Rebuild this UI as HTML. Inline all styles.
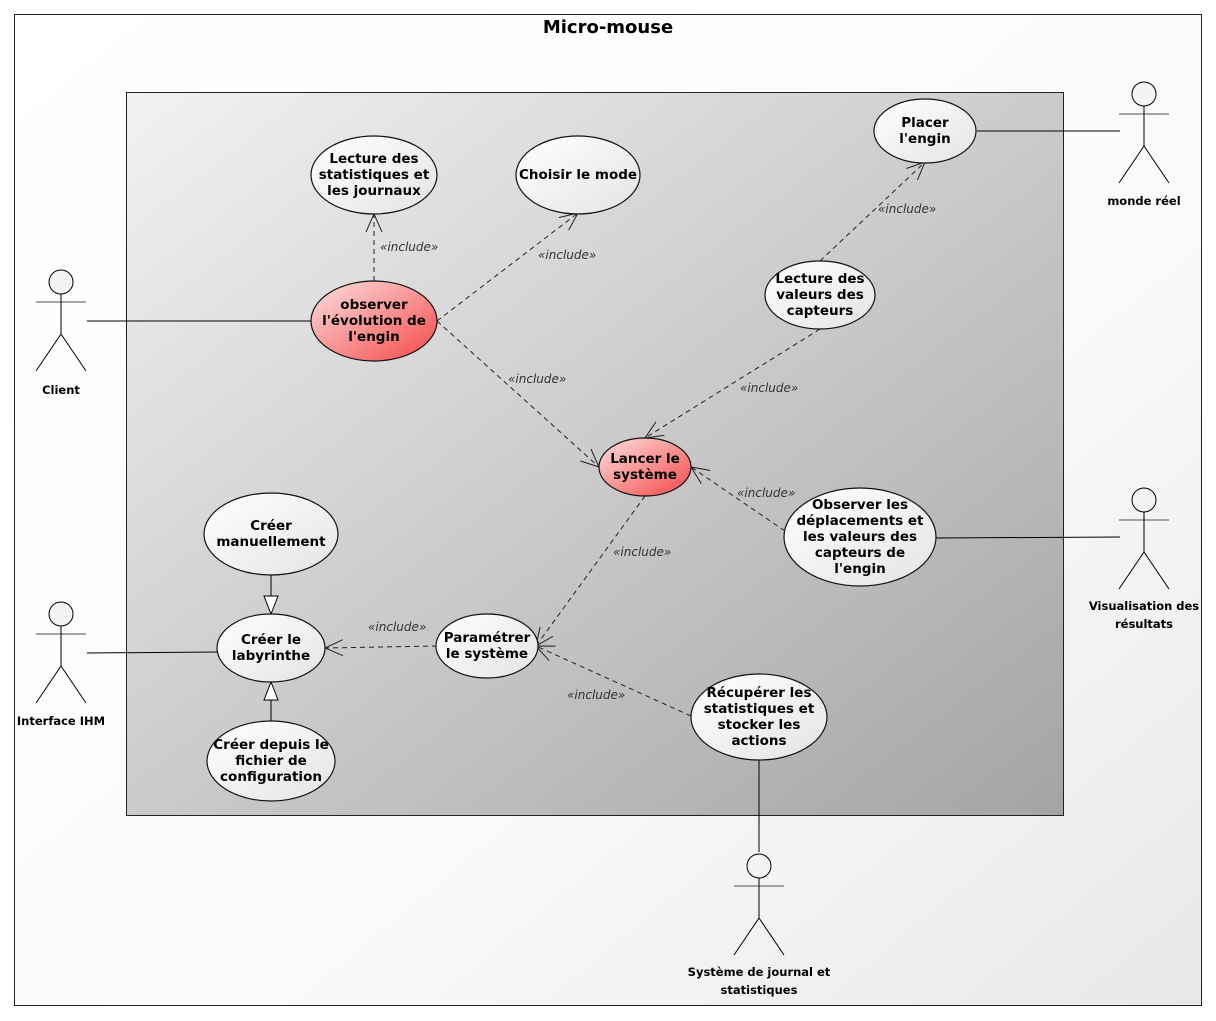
<!DOCTYPE html>
<html><head><meta charset="utf-8"><style>
html,body{margin:0;padding:0;background:#fff;}
svg{display:block;}
text{font-family:"DejaVu Sans","Liberation Sans",sans-serif;}
.u{font-size:13.5px;font-weight:bold;fill:#000;text-anchor:middle;}
.a{font-size:11.5px;font-weight:bold;fill:#000;text-anchor:middle;}
.i{font-size:12px;font-style:italic;fill:#333;}
.d{stroke:#222;stroke-width:1;stroke-dasharray:5,4;fill:none;marker-end:url(#op);}
</style></head><body>
<svg width="1216" height="1021" viewBox="0 0 1216 1021" xmlns="http://www.w3.org/2000/svg">
<defs>
<linearGradient id="og" x1="0" y1="0" x2="1" y2="1"><stop offset="0" stop-color="#ffffff"/><stop offset="0.6" stop-color="#fafafa"/><stop offset="1" stop-color="#e8e8e8"/></linearGradient>
<linearGradient id="ig" x1="0" y1="0" x2="1" y2="1"><stop offset="0" stop-color="#f2f2f2"/><stop offset="1" stop-color="#a4a4a4"/></linearGradient>
<linearGradient id="wg" x1="0" y1="0" x2="1" y2="1"><stop offset="0" stop-color="#ffffff"/><stop offset="1" stop-color="#e4e4e4"/></linearGradient>
<linearGradient id="rg" x1="0" y1="0" x2="1" y2="1"><stop offset="0" stop-color="#fde0e0"/><stop offset="1" stop-color="#f44848"/></linearGradient>
<marker id="op" markerWidth="20" markerHeight="20" refX="18" refY="10" orient="auto" markerUnits="userSpaceOnUse"><path d="M0,2 L18,10 L0,18" fill="none" stroke="#222" stroke-width="1"/></marker>
</defs>
<rect x="0" y="0" width="1216" height="1021" fill="#fff"/>
<rect x="14.5" y="14.5" width="1187" height="991" fill="url(#og)" stroke="#222"/>
<text x="608" y="33" style="font-size:18px;font-weight:bold;text-anchor:middle">Micro-mouse</text>
<rect x="126.5" y="92.5" width="937" height="723" fill="url(#ig)" stroke="#222"/>

<g stroke="#000" stroke-width="1" fill="none">
<line x1="87" y1="321" x2="311" y2="321"/>
<line x1="977" y1="131" x2="1120" y2="131"/>
<line x1="936" y1="538" x2="1120" y2="537"/>
<line x1="87" y1="653" x2="217" y2="652"/>
<line x1="759" y1="760" x2="759" y2="852"/>
<line x1="271" y1="575" x2="271" y2="596"/>
<polygon points="264,596 278,596 271,614" fill="#fff"/>
<line x1="271" y1="721" x2="271" y2="700"/>
<polygon points="264,700 278,700 271,682" fill="#fff"/>
</g>

<path class="d" d="M374,281 L374,214"/>
<path class="d" d="M437,321 L578,213"/>
<path class="d" d="M437,321 L599,467"/>
<path class="d" d="M820,261 L925,162"/>
<path class="d" d="M820,329 L645,438"/>
<path class="d" d="M785,531 L691,467"/>
<path class="d" d="M645,496 L536,646"/>
<path class="d" d="M437,646 L325,648"/>
<path class="d" d="M691,716 L536,646"/>
<text class="i" x="380" y="251">«include»</text>
<text class="i" x="538" y="259">«include»</text>
<text class="i" x="508" y="383">«include»</text>
<text class="i" x="878" y="213">«include»</text>
<text class="i" x="740" y="392">«include»</text>
<text class="i" x="737" y="497">«include»</text>
<text class="i" x="613" y="556">«include»</text>
<text class="i" x="368" y="631">«include»</text>
<text class="i" x="567" y="699">«include»</text>

<g stroke="#111" stroke-width="1.2">
<ellipse cx="374" cy="175" rx="63" ry="39" fill="url(#wg)"/>
<ellipse cx="578" cy="175" rx="62" ry="39" fill="url(#wg)"/>
<ellipse cx="925" cy="131" rx="51" ry="32" fill="url(#wg)"/>
<ellipse cx="374" cy="321" rx="63" ry="40" fill="url(#rg)"/>
<ellipse cx="820" cy="295" rx="55" ry="34" fill="url(#wg)"/>
<ellipse cx="645" cy="467" rx="46" ry="29" fill="url(#rg)"/>
<ellipse cx="860" cy="537" rx="76" ry="49" fill="url(#wg)"/>
<ellipse cx="271" cy="534" rx="67" ry="41" fill="url(#wg)"/>
<ellipse cx="271" cy="648" rx="54" ry="34" fill="url(#wg)"/>
<ellipse cx="487" cy="646" rx="51" ry="32" fill="url(#wg)"/>
<ellipse cx="759" cy="717" rx="68" ry="43" fill="url(#wg)"/>
<ellipse cx="271" cy="761" rx="64" ry="40" fill="url(#wg)"/>
</g>
<text class="u" x="374" y="163">Lecture des</text><text class="u" x="374" y="179">statistiques et</text><text class="u" x="374" y="195">les journaux</text>
<text class="u" x="578" y="179">Choisir le mode</text>
<text class="u" x="925" y="127">Placer</text><text class="u" x="925" y="143">l'engin</text>
<text class="u" x="374" y="309">observer</text><text class="u" x="374" y="325">l'évolution de</text><text class="u" x="374" y="341">l'engin</text>
<text class="u" x="820" y="283">Lecture des</text><text class="u" x="820" y="299">valeurs des</text><text class="u" x="820" y="315">capteurs</text>
<text class="u" x="645" y="463">Lancer le</text><text class="u" x="645" y="479">système</text>
<text class="u" x="860" y="509">Observer les</text><text class="u" x="860" y="525">déplacements et</text><text class="u" x="860" y="541">les valeurs des</text><text class="u" x="860" y="557">capteurs de</text><text class="u" x="860" y="573">l'engin</text>
<text class="u" x="271" y="530">Créer</text><text class="u" x="271" y="546">manuellement</text>
<text class="u" x="271" y="644">Créer le</text><text class="u" x="271" y="660">labyrinthe</text>
<text class="u" x="487" y="642">Paramétrer</text><text class="u" x="487" y="658">le système</text>
<text class="u" x="759" y="697">Récupérer les</text><text class="u" x="759" y="713">statistiques et</text><text class="u" x="759" y="729">stocker les</text><text class="u" x="759" y="745">actions</text>
<text class="u" x="271" y="749">Créer depuis le</text><text class="u" x="271" y="765">fichier de</text><text class="u" x="271" y="781">configuration</text>

<g stroke="#000" stroke-width="1" fill="none">
<g transform="translate(61,282)"><circle cx="0" cy="0" r="12" fill="#f4f4f4"/><line x1="-25" y1="20" x2="25" y2="20" stroke="#888" stroke-width="1.5"/><line x1="0" y1="12" x2="0" y2="52"/><path d="M-25,89 L0,52 L25,89"/></g>
<g transform="translate(1144,94)"><circle cx="0" cy="0" r="12" fill="#f4f4f4"/><line x1="-25" y1="20" x2="25" y2="20" stroke="#888" stroke-width="1.5"/><line x1="0" y1="12" x2="0" y2="52"/><path d="M-25,89 L0,52 L25,89"/></g>
<g transform="translate(1144,500)"><circle cx="0" cy="0" r="12" fill="#f4f4f4"/><line x1="-25" y1="20" x2="25" y2="20" stroke="#888" stroke-width="1.5"/><line x1="0" y1="12" x2="0" y2="52"/><path d="M-25,89 L0,52 L25,89"/></g>
<g transform="translate(61,614)"><circle cx="0" cy="0" r="12" fill="#f4f4f4"/><line x1="-25" y1="20" x2="25" y2="20" stroke="#888" stroke-width="1.5"/><line x1="0" y1="12" x2="0" y2="52"/><path d="M-25,89 L0,52 L25,89"/></g>
<g transform="translate(759,866)"><circle cx="0" cy="0" r="12" fill="#f4f4f4"/><line x1="-25" y1="20" x2="25" y2="20" stroke="#888" stroke-width="1.5"/><line x1="0" y1="12" x2="0" y2="52"/><path d="M-25,89 L0,52 L25,89"/></g>
</g>
<text class="a" x="61" y="394">Client</text>
<text class="a" x="1144" y="205">monde réel</text>
<text class="a" x="1144" y="610">Visualisation des</text><text class="a" x="1144" y="628">résultats</text>
<text class="a" x="61" y="725">Interface IHM</text>
<text class="a" x="759" y="976">Système de journal et</text><text class="a" x="759" y="994">statistiques</text>
</svg>
</body></html>
